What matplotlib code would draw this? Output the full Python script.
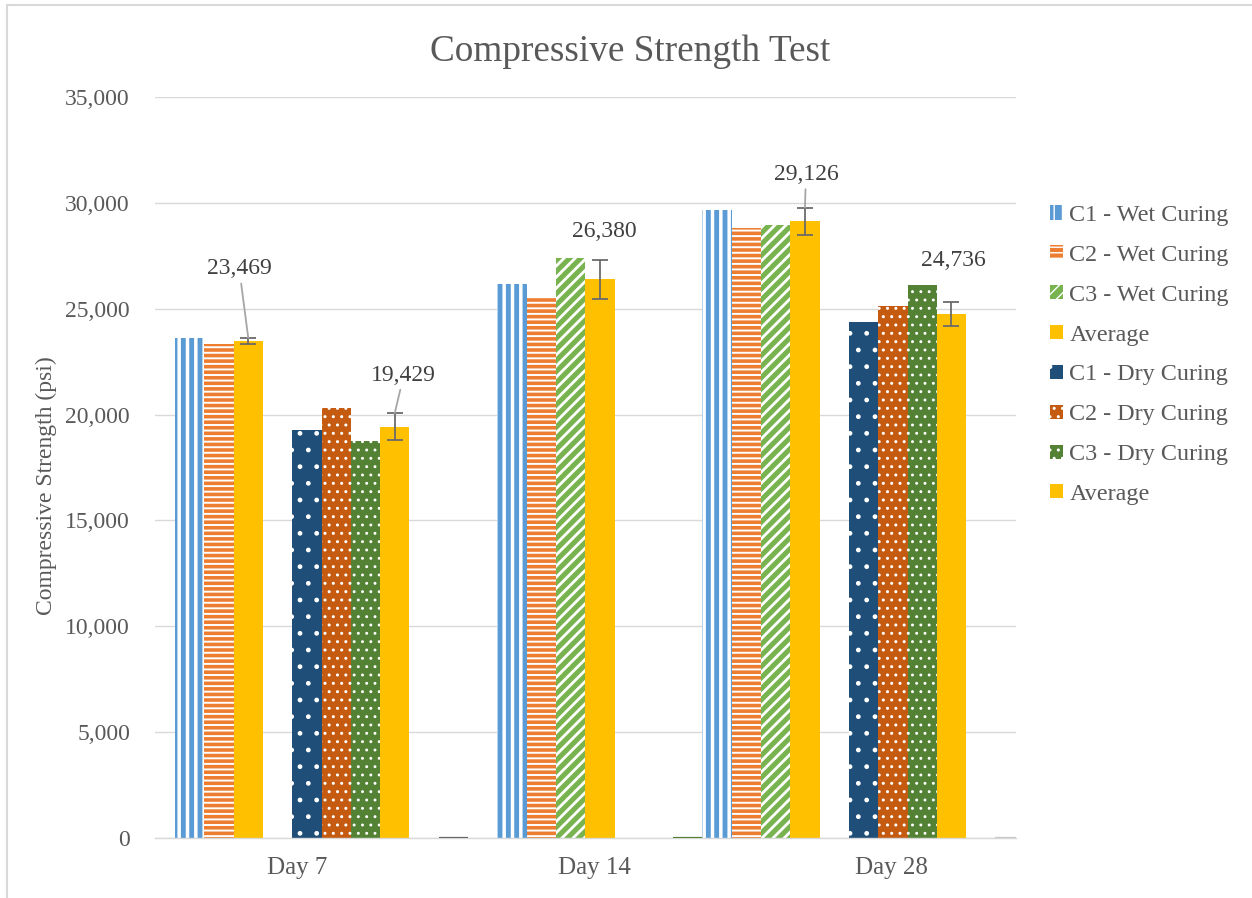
import numpy as np
import matplotlib
matplotlib.use("Agg")
import matplotlib.pyplot as plt
from matplotlib.ticker import FuncFormatter
from matplotlib.patches import Rectangle

# ---------------- data ----------------
categories = ["Day 7", "Day 14", "Day 28"]

c1_wet = [23600, 26170, 29660]
c2_wet = [23320, 25570, 28810]
c3_wet = [np.nan, 27380, 28950]
avg_wet = [23469, 26380, 29126]
err_wet = [150, 920, 650]

c1_dry = [19270, np.nan, 24390]
c2_dry = [20300, np.nan, 25130]
c3_dry = [18750, np.nan, 26120]
avg_dry = [19429, np.nan, 24736]
err_dry = [640, np.nan, 570]

zero_values = [0, 0, 0]

series_names = ["C1 - Wet Curing", "C2 - Wet Curing", "C3 - Wet Curing", "Average",
                "C1 - Dry Curing", "C2 - Dry Curing", "C3 - Dry Curing", "Average"]
y_ticks = [0, 5000, 10000, 15000, 20000, 25000, 30000, 35000]

# ---------------- layout / style ----------------
plt.rcParams['font.family'] = ['Liberation Serif', 'DejaVu Serif']
W, H = 1252, 898
fig = plt.figure(figsize=(W / 100, H / 100), dpi=100)
ax = fig.add_axes([155 / W, 1 - 838 / H, (1016 - 155) / W, (838 - 97) / H])

wet_start = [0, 11, 18]
dry_start = [4, None, 23]
zero_slots = [9, 17, 28]
zero_colors = ['#666666', '#548235', '#c8c8c8']

styles = [
    dict(color='#5B9BD5', hatch='||', hlw=2.5),
    dict(color='#ED7D31', hatch='---', hlw=1.4),
    dict(color='#78B350', hatch='///', hlw=2.0),
    dict(color='#FFC000', hatch=None, hlw=1.0),
    dict(color='#1F4E79', hatch='.', hlw=1.0),
    dict(color='#C55A11', hatch='..', hlw=1.0),
    dict(color='#548235', hatch='..', hlw=0.9),
    dict(color='#FFC000', hatch=None, hlw=1.0),
]


def positions(series_list, starts):
    xs = [[np.nan] * len(categories) for _ in series_list]
    for ci, s in enumerate(starts):
        if s is None:
            continue
        k = s
        for si, ser in enumerate(series_list):
            if not np.isnan(ser[ci]):
                xs[si][ci] = k
                k += 1
    return xs


wet_series = [c1_wet, c2_wet, c3_wet, avg_wet]
dry_series = [c1_dry, c2_dry, c3_dry, avg_dry]
all_series = wet_series + dry_series
all_x = positions(wet_series, wet_start) + positions(dry_series, dry_start)

handles = []
for ser, xs, st, name in zip(all_series, all_x, styles, series_names):
    xs = np.array(xs, dtype=float)
    vals = np.array(ser, dtype=float)
    m = ~np.isnan(xs)
    with plt.rc_context({'hatch.linewidth': st['hlw']}):
        bc = ax.bar(xs[m], vals[m], width=1.0, color=st['color'],
                    edgecolor='white' if st['hatch'] else st['color'],
                    hatch=st['hatch'], linewidth=0, zorder=2, label=name)
        for p in bc.patches:
            if hasattr(p, 'set_hatch_linewidth'):
                p.set_hatch_linewidth(st['hlw'])
    handles.append(bc)

# zero-height bars (thin dashes on the baseline)
ax.bar(zero_slots, zero_values, width=1.0, facecolor='none',
       edgecolor=zero_colors, linewidth=1.6, zorder=3)

# error bars on averages
ex_w = np.array(all_x[3], dtype=float)
ex_d = np.array(all_x[7], dtype=float)
for xs, vals, errs in [(ex_w, avg_wet, err_wet), (ex_d, avg_dry, err_dry)]:
    vals = np.array(vals, dtype=float)
    errs = np.array(errs, dtype=float)
    m = ~np.isnan(xs)
    ax.errorbar(xs[m], vals[m], yerr=errs[m], fmt='none', ecolor='#6b6b6b',
                elinewidth=1.3, capsize=6, capthick=1.3, zorder=4)

# data labels
label_offsets_wet = [(-9, 69, True), (4, 29, False), (1, 33, True)]
label_offsets_dry = [(9, 38, True), None, (1.5, 42, False)]
for xs, vals, errs, offs in [(ex_w, avg_wet, err_wet, label_offsets_wet),
                             (ex_d, avg_dry, err_dry, label_offsets_dry)]:
    for i in range(len(categories)):
        if offs[i] is None or np.isnan(xs[i]):
            continue
        dx, dy, leader = offs[i]
        kw = {}
        if leader:
            kw['arrowprops'] = dict(arrowstyle='-', color='#a6a6a6', lw=1.3,
                                    shrinkA=1, shrinkB=0)
        ax.annotate(f"{vals[i]:,.0f}", xy=(xs[i], vals[i] + errs[i]),
                    xytext=(dx, dy), textcoords='offset pixels',
                    ha='center', va='center', fontsize=17, color='#404040',
                    zorder=5, **kw)

# axes
ax.set_xlim((155 - 175) / 29.3 - 0.5, (1016 - 175) / 29.3 - 0.5)
ax.set_ylim(0, 35000)
ax.set_yticks(y_ticks)
ax.yaxis.set_major_formatter(FuncFormatter(lambda v, p: f"{v:,.0f}"))
tick_pos = 3.68 + 10.13 * np.arange(len(categories))
ax.set_xticks(tick_pos, categories)
ax.tick_params(axis='y', length=0, pad=18, labelsize=17, labelcolor='#595959')
ax.tick_params(axis='x', length=0, pad=14, labelsize=18, labelcolor='#595959')
ax.yaxis.grid(True, color='#d9d9d9', linewidth=1.0)
ax.set_axisbelow(True)
for s in ['top', 'right', 'left']:
    ax.spines[s].set_visible(False)
ax.spines['bottom'].set_color('#d9d9d9')
ax.spines['bottom'].set_linewidth(1.0)

ax.set_ylabel('Compressive Strength (psi)', fontsize=17, color='#595959')
ax.yaxis.set_label_coords(-0.114, 0.476)

fig.text(0.503, 1 - 52 / H, 'Compressive Strength Test', ha='center', va='center',
         fontsize=26.8, color='#595959')

fig.legend(handles=handles, labels=series_names, loc='center left',
           bbox_to_anchor=(1050 / W, 1 - 355 / H), frameon=False, fontsize=17.4,
           labelcolor='#595959', handlelength=0.52, handleheight=0.52,
           handletextpad=0.28, labelspacing=0.78, borderpad=0, borderaxespad=0)

# chart border
fig.patches.append(Rectangle((6.5 / W, -0.05), 1.1, 1 - 5 / H + 0.05,
                             transform=fig.transFigure, fill=False,
                             edgecolor='#d9d9d9', linewidth=1.5))

fig.savefig('out.png', dpi=100)
